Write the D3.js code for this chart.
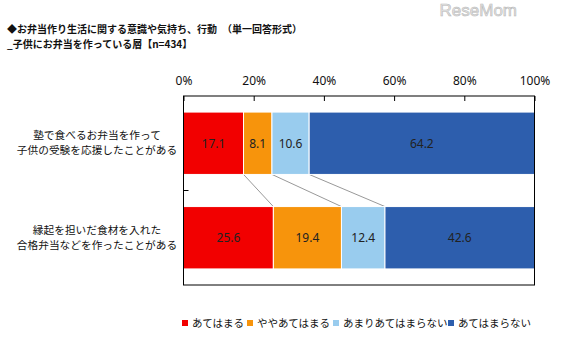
<!DOCTYPE html>
<html><head><meta charset="utf-8">
<script src="https://cdn.jsdelivr.net/npm/d3@7"></script>
<style>body{margin:0;background:#fff}svg{display:block}</style>
</head><body>
<svg id="c" width="576" height="348"></svg>
<script>
const categories = [
  ["塾で食べるお弁当を作って", "子供の受験を応援したことがある"],
  ["縁起を担いだ食材を入れた", "合格弁当などを作ったことがある"]
];
const seriesNames = ["あてはまる", "ややあてはまる", "あまりあてはまらない", "あてはまらない"];
const seriesColors = ["#f20000", "#f7940c", "#99ccee", "#2d5ead"];
const values = [
  [17.1, 8.1, 10.6, 64.2],
  [25.6, 19.4, 12.4, 42.6]
];
const tickValues = [0, 20, 40, 60, 80, 100];
const titleLines = ["◆お弁当作り生活に関する意識や気持ち、行動　（単一回答形式）", "_子供にお弁当を作っている層【n=434】"];

const svg = d3.select("#c");
const jp = "'Noto Sans CJK JP', 'Noto Sans', sans-serif";
const L = 183.5, R = 534.5, T = 96, B = 285;

const x = d3.scaleLinear().domain([0, 100]).range([L, R]);
const y = d3.scaleBand().domain(d3.range(categories.length)).range([T, B]).paddingInner(0.34).paddingOuter(0.17);

// watermark
svg.append("text").attr("x", 517).attr("y", 16).attr("text-anchor", "end")
  .attr("font-family", "'Liberation Sans', Arial, sans-serif").attr("font-size", 17)
  .attr("fill", "#e6e6e6").attr("stroke", "#b8b8b8").attr("stroke-width", 0.6).text("ReseMom");

// title
titleLines.forEach((t, i) => {
  svg.append("text").attr("x", 7).attr("y", 33 + i * 14.5)
    .attr("font-family", jp).attr("font-size", 10).attr("font-weight", "bold")
    .attr("fill", "#111").text(t);
});

// stacked data
const stacked = values.map(row => {
  let acc = 0;
  return row.map((v, k) => { const s = acc; acc += v; return {k, v, s, e: acc}; });
});

// connectors
for (let k = 0; k < 3; k++) {
  for (let i = 0; i < values.length - 1; i++) {
    svg.append("line")
      .attr("x1", x(stacked[i][k].e)).attr("y1", y(i) + y.bandwidth())
      .attr("x2", x(stacked[i + 1][k].e)).attr("y2", y(i + 1))
      .attr("stroke", "#999").attr("stroke-width", 1);
  }
}

// bars
stacked.forEach((row, i) => {
  const g = svg.append("g");
  g.selectAll("rect").data(row).join("rect")
    .attr("x", d => x(d.s)).attr("y", y(i))
    .attr("width", d => x(d.e) - x(d.s)).attr("height", y.bandwidth())
    .attr("fill", d => seriesColors[d.k])
    .attr("stroke", "#fff").attr("stroke-width", 1);
  g.selectAll("text").data(row).join("text")
    .attr("x", d => x((d.s + d.e) / 2)).attr("y", y(i) + y.bandwidth() / 2 + 4.5)
    .attr("text-anchor", "middle").attr("font-family", "'Noto Sans', sans-serif")
    .attr("font-size", 12).attr("fill", "#222").text(d => d.v.toFixed(1));
});

// frame
svg.append("rect").attr("x", L).attr("y", T).attr("width", R - L).attr("height", B - T)
  .attr("fill", "none").attr("stroke", "#000").attr("stroke-width", 1);

// top axis
const axis = svg.append("g").attr("transform", `translate(0,${T})`)
  .call(d3.axisTop(x).tickValues(tickValues).tickSize(-5).tickPadding(10).tickFormat(d => d + "%"));
axis.select(".domain").remove();
axis.selectAll("line").attr("stroke", "#000");
axis.selectAll("text").attr("font-family", "'Noto Sans', sans-serif").attr("font-size", 12)
  .attr("fill", "#111").attr("dy", "0");
axis.selectAll("text").attr("y", -11);

// left separator tick
for (let i = 0; i < categories.length - 1; i++) {
  const yy = (y(i) + y.bandwidth() + y(i + 1)) / 2;
  svg.append("line").attr("x1", L).attr("x2", L + 5).attr("y1", yy).attr("y2", yy).attr("stroke", "#000");
}

// category labels
categories.forEach((lines, i) => {
  const cy = y(i) + y.bandwidth() / 2;
  lines.forEach((t, j) => {
    svg.append("text").attr("x", 97).attr("y", cy - 4 + j * 15)
      .attr("text-anchor", "middle").attr("font-family", jp).attr("font-size", 10.7)
      .attr("fill", "#111").text(t);
  });
});

// legend
const legendX = [182, 247, 333, 448];
seriesNames.forEach((n, k) => {
  svg.append("rect").attr("x", legendX[k]).attr("y", 320).attr("width", 6).attr("height", 6)
    .attr("fill", seriesColors[k]);
  svg.append("text").attr("x", legendX[k] + 10).attr("y", 327)
    .attr("font-family", jp).attr("font-size", 10.5).attr("fill", "#111").text(n);
});
</script>
</body></html>
